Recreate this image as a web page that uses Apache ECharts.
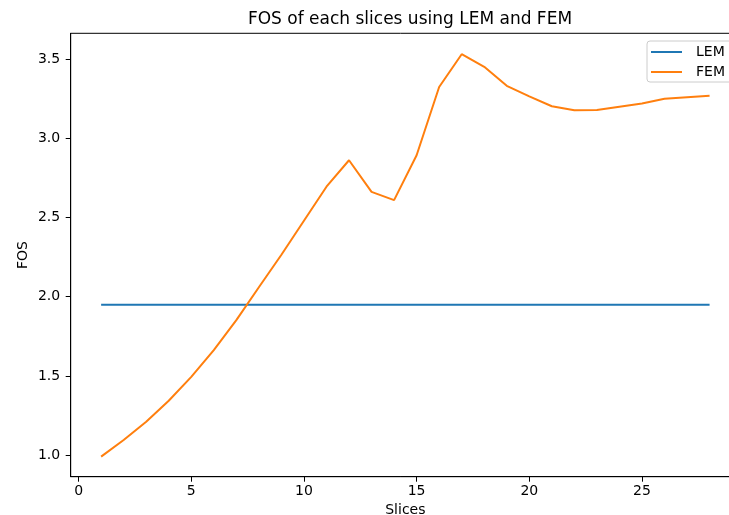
<!DOCTYPE html>
<html>
<head>
<meta charset="utf-8">
<script src="https://cdn.jsdelivr.net/npm/echarts@6/dist/echarts.min.js"></script>
<style>
  html, body { margin: 0; padding: 0; background: #fff; }
  #chart { width: 729px; height: 515px; }
</style>
</head>
<body>
<div id="chart"></div>
<script>
// Slice numbers along the failure surface
const slices = [1, 2, 3, 4, 5, 6, 7, 8, 9, 10, 11, 12, 13, 14, 15, 16, 17, 18, 19, 20, 21, 22, 23, 24, 25, 26, 27, 28];
// Factor of safety from the limit equilibrium method (single global value)
const lemFos = [1.95, 1.95, 1.95, 1.95, 1.95, 1.95, 1.95, 1.95, 1.95, 1.95, 1.95, 1.95, 1.95, 1.95,
                1.95, 1.95, 1.95, 1.95, 1.95, 1.95, 1.95, 1.95, 1.95, 1.95, 1.95, 1.95, 1.95, 1.95];
// Factor of safety per slice from the finite element method
const femFos = [0.99, 1.095, 1.21, 1.343, 1.494, 1.663, 1.852, 2.06, 2.265, 2.48, 2.695, 2.862, 2.662, 2.61,
                2.894, 3.325, 3.532, 3.452, 3.332, 3.266, 3.203, 3.178, 3.18, 3.2, 3.22, 3.25, 3.26, 3.27];
// Axis tick positions
const xTicks = [0, 5, 10, 15, 20, 25];
const yTicks = [1.0, 1.5, 2.0, 2.5, 3.0, 3.5];

const font = 'DejaVu Sans';
const pairs = (ys) => slices.map((s, i) => [s, ys[i]]);

const chart = echarts.init(document.getElementById('chart'), null, { renderer: 'canvas' });
chart.setOption({
  animation: false,
  backgroundColor: '#ffffff',
  title: {
    text: 'FOS of each slices using LEM and FEM',
    left: 405, top: 6, textAlign: 'center',
    textStyle: { fontFamily: font, fontSize: 17, fontWeight: 'normal', color: '#000' }
  },
  legend: {
    orient: 'vertical',
    left: 647, top: 41,
    padding: [3, 16, 2, 4],
    itemGap: 4,
    itemWidth: 31, itemHeight: 2,
    icon: 'rect',
    borderColor: '#cccccc', borderWidth: 1, borderRadius: 3,
    backgroundColor: 'rgba(255,255,255,0.8)',
    textStyle: { fontFamily: font, fontSize: 14, lineHeight: 16, color: '#000', padding: [0, 0, 0, 9] },
    data: ['LEM', 'FEM']
  },
  grid: {
    left: 70.7, top: 33.3, width: 669.3, height: 443.4,
    outerBoundsMode: 'none',
    show: true, borderColor: '#000', borderWidth: 1, containLabel: false
  },
  xAxis: {
    type: 'value', min: -0.35, max: 29.35,
    name: 'Slices', nameLocation: 'middle', nameGap: 26,
    nameTextStyle: { fontFamily: font, fontSize: 14, color: '#000' },
    axisLine: { show: true, onZero: false, lineStyle: { color: '#000', width: 1 } },
    axisTick: { show: true, length: 5, lineStyle: { color: '#000' }, customValues: xTicks },
    axisLabel: { fontFamily: font, fontSize: 14, color: '#000', margin: 8, customValues: xTicks },
    splitLine: { show: false }
  },
  yAxis: {
    type: 'value', min: 0.863, max: 3.664,
    name: 'FOS', nameLocation: 'middle', nameGap: 40, nameRotate: 90,
    nameMoveOverlap: false,
    nameTextStyle: { fontFamily: font, fontSize: 14, color: '#000' },
    axisLine: { show: true, onZero: false, lineStyle: { color: '#000', width: 1 } },
    axisTick: { show: true, length: 5, lineStyle: { color: '#000' }, customValues: yTicks },
    axisLabel: { fontFamily: font, fontSize: 14, color: '#000', margin: 10.5, customValues: yTicks,
                 formatter: (v) => v.toFixed(1) },
    splitLine: { show: false }
  },
  series: [
    { name: 'LEM', type: 'line', data: pairs(lemFos), showSymbol: false, symbol: 'none',
      lineStyle: { color: '#1f77b4', width: 2 }, itemStyle: { color: '#1f77b4' } },
    { name: 'FEM', type: 'line', data: pairs(femFos), showSymbol: false, symbol: 'none',
      lineStyle: { color: '#ff7f0e', width: 2 }, itemStyle: { color: '#ff7f0e' } }
  ]
});
</script>
</body>
</html>
